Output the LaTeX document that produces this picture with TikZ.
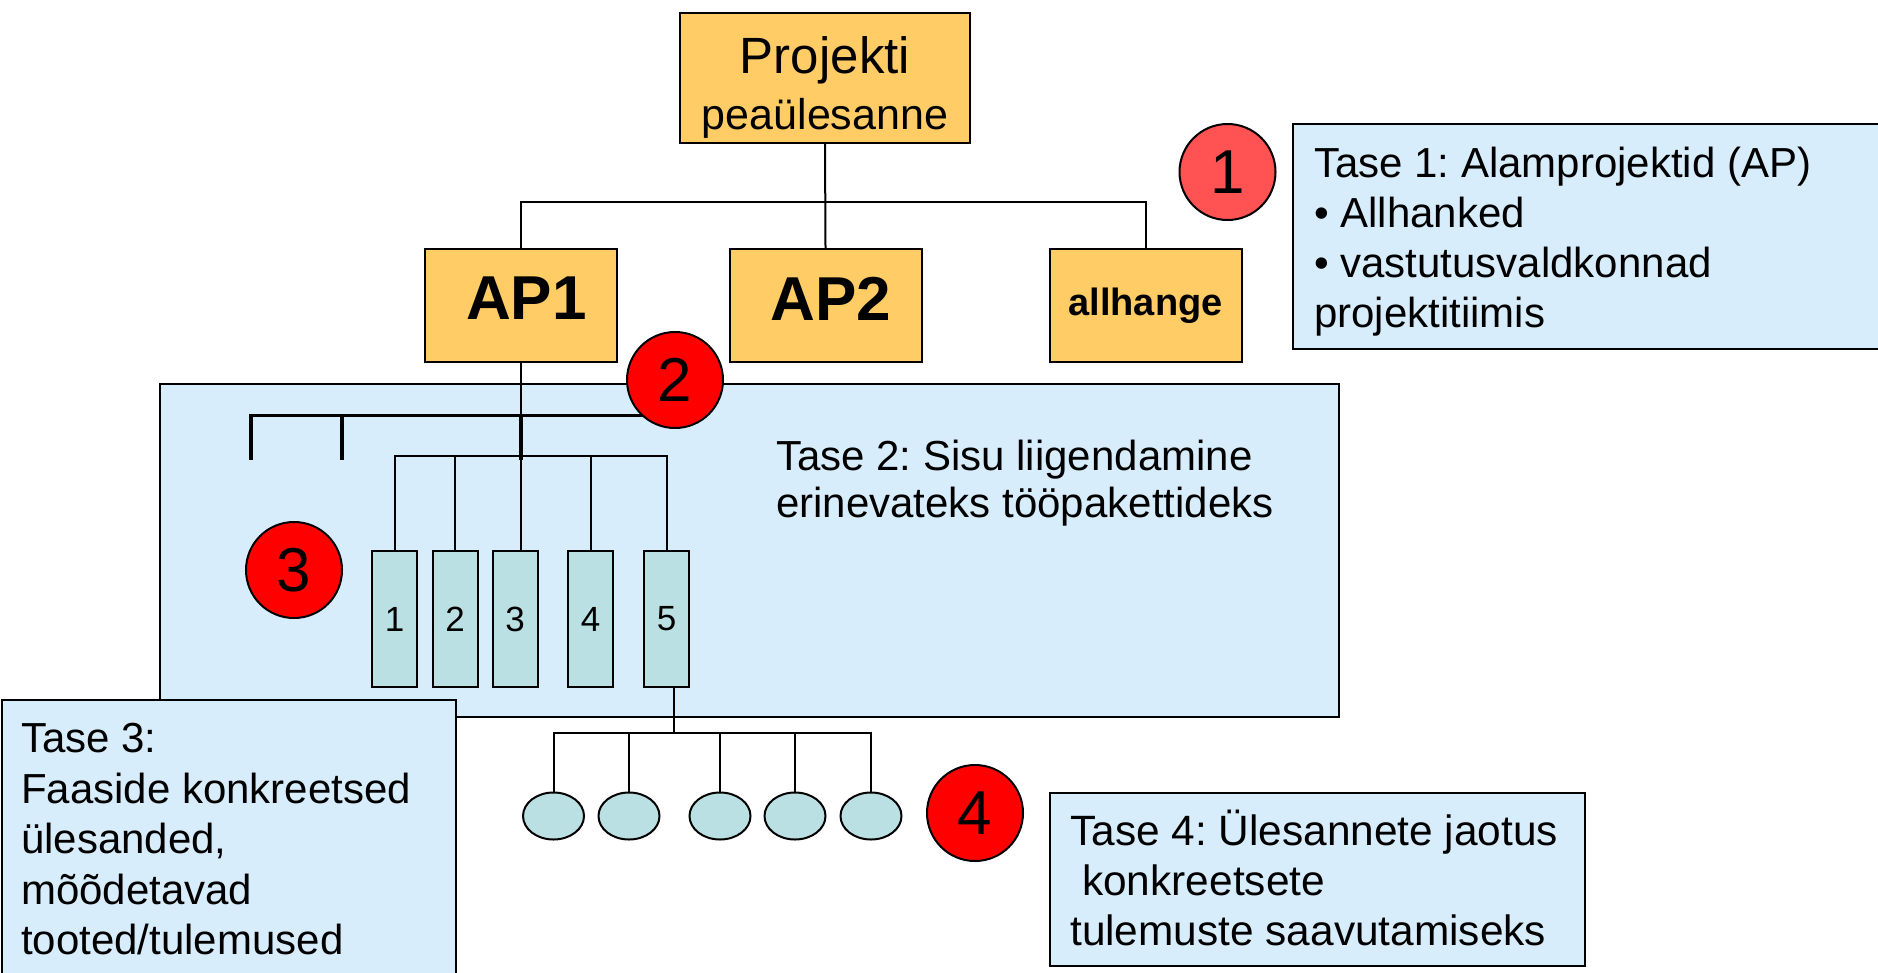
\documentclass[tikz,border=0pt]{standalone}
\usepackage{fontspec}
\setmainfont{Liberation Sans}
\usetikzlibrary{positioning,shapes.geometric}
\frenchspacing

\definecolor{apfill}{RGB}{255,204,102}
\definecolor{tasefill}{RGB}{216,237,251}
\definecolor{pakfill}{RGB}{187,224,227}
\definecolor{nrred}{RGB}{255,0,0}
\definecolor{nrpink}{RGB}{255,82,82}

\tikzset{
  apbox/.style={draw, fill=apfill, line width=2pt, inner sep=0pt, minimum width=192, minimum height=113},
  tasebox/.style={draw, fill=tasefill, line width=2pt, inner sep=0pt},
  tasetext/.style={align=left, inner sep=0pt, anchor=north west, font=\fontsize{42}{50}\selectfont},
  pakbox/.style={draw, fill=pakfill, line width=2pt, inner sep=0pt, minimum width=45, minimum height=136, font=\fontsize{35}{40}\selectfont},
  tulem/.style={draw, fill=pakfill, ellipse, line width=2pt, inner sep=0pt, minimum width=61, minimum height=47},
  nrring/.style={draw, circle, fill=nrred, line width=2pt, inner sep=0pt, minimum size=96, font=\fontsize{62}{62}\selectfont},
  link/.style={line width=2pt},
  bar/.style={line width=3pt},
  tick/.style={line width=4.5pt},
}

\begin{document}
\begin{tikzpicture}[x=1pt,y=-1pt]
  \clip (0,0) rectangle (1878,972);
  % tase 2 background
  \node[tasebox, minimum width=1179, minimum height=333] (t2box) at (749.5,550.5) {};

  % tase 1: project and sub-projects
  \node[apbox, minimum width=290, minimum height=130, align=center, font=\fontsize{43}{50}\selectfont] (proj) at (825,78)
    {\rule{0pt}{55pt}{\fontsize{51}{51}\selectfont Projekti}\\[6pt]peaülesanne};
  \node[apbox, font=\bfseries\fontsize{62}{62}\selectfont, text depth=14pt] (ap1) at (521,305.5) {\hspace*{11pt}AP1};
  \node[apbox, font=\bfseries\fontsize{62}{62}\selectfont, text depth=14pt] (ap2) at (825.5,305.5) {\hspace*{11pt}AP2};
  \node[apbox, font=\bfseries\fontsize{38}{40}\selectfont] (allh) at (1145.5,305.5) {allhange};
  \coordinate (hub1) at (825,202);
  \draw[link] (proj.south) -- (ap2.north);
  \draw[link] (ap1.north) |- (hub1) -| (allh.north);

  \node[tasebox, anchor=north west, minimum width=620, minimum height=225] (t1box) at (1292,123) {};
  \node[tasetext] (t1text) at (1314,146.5)
    {Tase 1: Alamprojektid (AP)\\• Allhanked\\• vastutusvaldkonnad\\projektitiimis};
  \node[nrring, fill=nrpink] (nr1) at (1227.5,172) {1};

  % tase 2: work packages
  \draw[bar] (251,415) -- (660,415);
  \foreach \x in {251,342,521}
    \draw[tick] (\x,413.5) -- (\x,460);
  \foreach \n/\x in {1/394.5,2/455,3/515,4/590.5,5/666.5}
    \node[pakbox] (pak\n) at (\x,619) {\n};
  \draw[link] (ap1.south) -- (ap1.south |- pak3.north);
  \draw[link] (pak1.north) -- ++(0,-94) -| (pak5.north);
  \foreach \n in {2,4}
    \draw[link] (pak\n.north) -- ++(0,-94);
  \node[nrring] (nr2) at (675,380) {2};
  \node[nrring] (nr3) at (294,570) {3};
  \node[tasetext, font=\fontsize{42}{47}\selectfont] (t2text) at (776,440)
    {Tase 2: Sisu liigendamine\\erinevateks tööpakettideks};

  % tase 4: tasks
  \foreach \n/\x in {1/553.5,2/629,3/720,4/795,5/871}
    \node[tulem] (tul\n) at (\x,816) {};
  \draw[link] ([xshift=7.5pt]pak5.south) -- ++(0,45) coordinate (hub4);
  \draw[link] (tul1.north) |- (hub4) -| (tul5.north);
  \foreach \n in {2,3,4}
    \draw[link] (tul\n.north) -- (tul\n.north |- hub4);
  \node[nrring] (nr4) at (975,813) {4};

  % tase 3 and tase 4 notes
  \node[tasebox, anchor=north west, minimum width=454, minimum height=300] (t3box) at (1,699) {};
  \node[tasetext, font=\fontsize{42}{50.5}\selectfont] (t3text) at (21,723)
    {Tase 3:\\Faaside konkreetsed\\ülesanded,\\mõõdetavad\\tooted/tulemused};
  \node[tasebox, anchor=north west, minimum width=535, minimum height=173] (t4box) at (1049,792) {};
  \node[tasetext, font=\fontsize{42.4}{50}\selectfont] (t4text) at (1070,810)
    {Tase 4: Ülesannete jaotus\\\hspace*{12pt}konkreetsete\\tulemuste saavutamiseks};
\end{tikzpicture}
\end{document}
